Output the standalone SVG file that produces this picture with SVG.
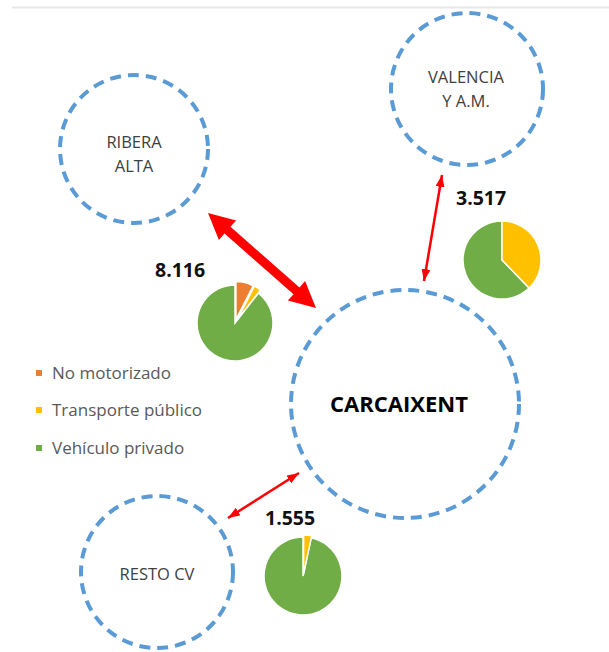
<svg xmlns="http://www.w3.org/2000/svg" width="609" height="652" viewBox="0 0 609 652">
  <style>
    .node { fill: none; stroke: #5b9bd5; stroke-width: 4; stroke-dasharray: 11 7; }
    .lbl { font-family: "Open Sans", "Liberation Sans", sans-serif; font-size: 16.5px; fill: #404040; text-anchor: middle; }
    .big { font-family: "Open Sans", "Liberation Sans", sans-serif; font-size: 22px; font-weight: bold; fill: #000; text-anchor: middle; }
    .num { font-family: "Open Sans", "Liberation Sans", sans-serif; font-size: 19.5px; font-weight: bold; fill: #111; }
    .leg { font-family: "Open Sans", "Liberation Sans", sans-serif; font-size: 17px; fill: #595959; }
    .thin { stroke: #ff0000; stroke-width: 2.5; fill: none; marker-start: url(#ah); marker-end: url(#ah); }
    .g { fill: #70ad47; stroke: #fff; stroke-width: 1.5; }
    .y { fill: #ffc000; stroke: #fff; stroke-width: 1.5; }
    .o { fill: #ed7d31; stroke: #fff; stroke-width: 1.5; }
  </style>
  <defs>
    <marker id="ah" viewBox="0 0 12 9" markerWidth="12" markerHeight="9" refX="12" refY="4.5" markerUnits="userSpaceOnUse" orient="auto-start-reverse">
      <path d="M0,0 L12,4.5 L0,9 z" fill="#ff0000"/>
    </marker>
  </defs>
  <rect width="609" height="652" fill="#fff"/>
  <line x1="12" y1="7.5" x2="609" y2="7.5" stroke="#e8e8e8" stroke-width="2"/>

  <g id="connectors">
    <polygon fill="#ff0000" points="208,213 236.1,220.4 230.5,226.8 299.5,287.4 305.1,281 316,308 287.9,300.6 293.5,294.2 224.5,233.6 218.9,240"/>
    <line class="thin" x1="442" y1="175" x2="424" y2="281"/>
    <line class="thin" x1="299" y1="473" x2="228" y2="518"/>
  </g>

  <g id="ribera-alta">
    <circle class="node" cx="134" cy="149" r="74"/>
    <text class="lbl" x="134" y="148">RIBERA</text>
    <text class="lbl" x="134" y="172">ALTA</text>
  </g>
  <g id="valencia">
    <circle class="node" cx="467" cy="89" r="76"/>
    <text class="lbl" x="466" y="83">VALENCIA</text>
    <text class="lbl" x="466" y="107">Y A.M.</text>
  </g>
  <g id="carcaixent">
    <circle class="node" cx="405" cy="404" r="114"/>
    <text class="big" x="399" y="412">CARCAIXENT</text>
  </g>
  <g id="resto-cv">
    <circle class="node" cx="157" cy="572" r="76"/>
    <text class="lbl" x="157" y="580">RESTO CV</text>
  </g>

  <g id="pie-ribera">
    <text class="num" x="155" y="277">8.116</text>
    <path class="g" d="M235,323 L258.4,293.06 A38,38 0 1 1 235,285 Z"/>
    <path class="o" transform="translate(0.9,-3.4)" d="M235,323 L235,285 A38,38 0 0 1 252.25,289.14 Z"/>
    <path class="y" transform="translate(2.1,-3)" d="M235,323 L252.25,289.14 A38,38 0 0 1 258.4,293.06 Z"/>
  </g>
  <g id="pie-valencia">
    <text class="num" x="456" y="205">3.517</text>
    <path class="g" d="M502,260 L529.09,288.05 A39,39 0 1 1 502,221 Z"/>
    <path class="y" d="M502,260 L502,221 A39,39 0 0 1 529.09,288.05 Z"/>
  </g>
  <g id="pie-resto">
    <text class="num" x="265" y="525">1.555</text>
    <path class="g" d="M303,576 L311.11,537.85 A39,39 0 1 1 303,537 Z"/>
    <path class="y" transform="translate(0.6,-2)" d="M303,576 L303,537 A39,39 0 0 1 311.11,537.85 Z"/>
  </g>

  <g id="legend">
    <rect x="36" y="370" width="6" height="6" fill="#ed7d31"/>
    <text class="leg" x="52" y="379">No motorizado</text>
    <rect x="36" y="407" width="6" height="6" fill="#ffc000"/>
    <text class="leg" x="52" y="416">Transporte público</text>
    <rect x="36" y="445" width="6" height="6" fill="#70ad47"/>
    <text class="leg" x="52" y="454">Vehículo privado</text>
  </g>
</svg>
